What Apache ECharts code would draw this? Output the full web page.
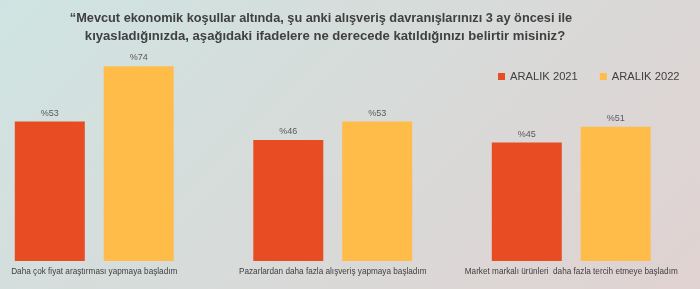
<!DOCTYPE html>
<html><head><meta charset="utf-8">
<script src="https://cdn.jsdelivr.net/npm/echarts@6/dist/echarts.min.js"></script>
<style>html,body{margin:0;padding:0;overflow:hidden;width:700px;height:289px;background:linear-gradient(135deg,#cfe4e2,#e0d2d1);}#c{width:725px;height:289px;margin-left:-25px;}</style>
</head><body><div id="c"></div>
<script>
const titleLines = ["“Mevcut ekonomik koşullar altında, şu anki alışveriş davranışlarınızı 3 ay öncesi ile", "kıyasladığınızda, aşağıdaki ifadelere ne derecede katıldığınızı belirtir misiniz?"];
const categories = ["Daha çok fiyat araştırması yapmaya başladım", "Pazarlardan daha fazla alışveriş yapmaya başladım", "Market markalı ürünleri  daha fazla tercih etmeye başladım"];
const seriesNames = ["ARALIK 2021", "ARALIK 2022"];
const values2021 = [53, 46, 45];
const values2022 = [74, 53, 51];

const OFF = 25;
const chart = echarts.init(document.getElementById('c'), null, {renderer: 'canvas'});
const lbl = {show: true, position: 'top', distance: 4, formatter: p => '%' + p.value, color: '#595959', fontSize: 9, fontFamily: 'Liberation Sans'};
const tStyle = {fontFamily: 'Liberation Sans', fontWeight: 'bold', fontSize: 12.75, color: '#404040'};
chart.setOption({
  backgroundColor: 'transparent',
  animation: false,
  title: [
    {text: titleLines[0], left: 316 + OFF, top: 7, textAlign: 'center', padding: 5, textStyle: tStyle},
    {text: titleLines[1], left: 320 + OFF, top: 25, textAlign: 'center', padding: 5, textStyle: Object.assign({}, tStyle, {fontSize: 13.1})}
  ],
  legend: {
    data: seriesNames, top: 66, left: 493 + OFF, itemWidth: 7, itemHeight: 7, itemGap: 22, icon: 'rect',
    textStyle: {fontFamily: 'Liberation Sans', fontSize: 11.2, color: '#404040'}
  },
  grid: {left: 0, width: 715.5, top: 40, bottom: 28, containLabel: false},
  xAxis: {
    type: 'category', data: categories,
    axisLine: {show: false}, axisTick: {show: false},
    axisLabel: {color: '#404040', fontSize: 8.2, fontFamily: 'Liberation Sans', margin: 7, interval: 0}
  },
  yAxis: {type: 'value', min: 0, max: 84.0, show: false, splitLine: {show: false}},
  series: [
    {name: seriesNames[0], type: 'bar', data: values2021, barWidth: 70, barGap: '27%', itemStyle: {color: '#e84c22'}, label: lbl},
    {name: seriesNames[1], type: 'bar', data: values2022, barWidth: 70, itemStyle: {color: '#ffbc49'}, label: lbl}
  ]
});
</script></body></html>
